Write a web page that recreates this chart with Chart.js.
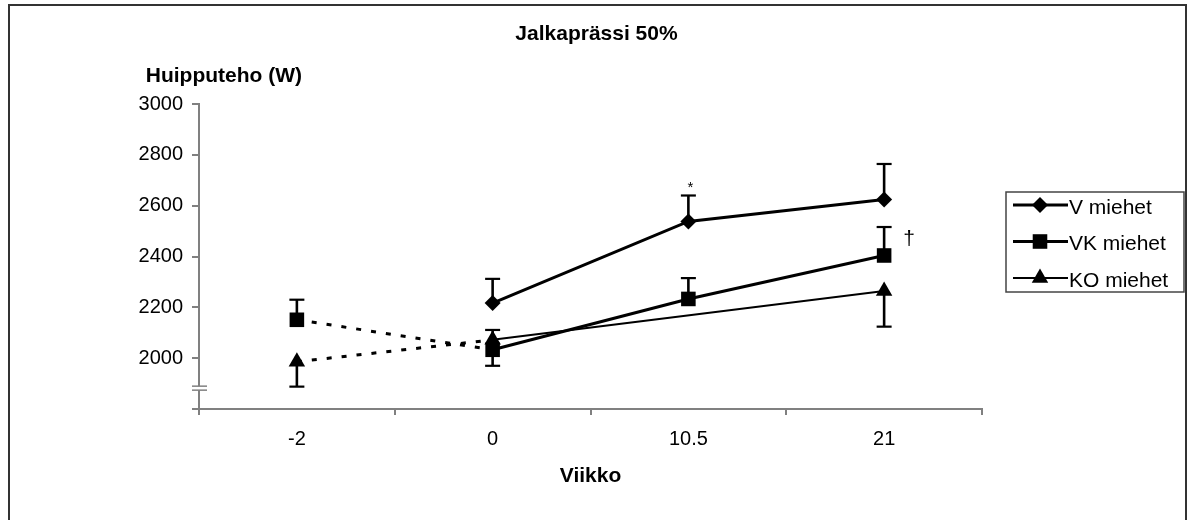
<!DOCTYPE html>
<html><head><meta charset="utf-8">
<script src="https://cdn.jsdelivr.net/npm/chart.js@4.4.1/dist/chart.umd.min.js"></script>
<style>html,body{margin:0;padding:0;background:#fff}#wrap{width:1188px;height:520px;position:relative}</style>
</head><body><div id="wrap"><canvas id="c" width="1188" height="520"></canvas></div>
<script>
// ---- data ----
const categories = ['-2', '0', '10.5', '21'];
const seriesNames = ['V miehet', 'VK miehet', 'KO miehet'];
const vMen  = [null, 2217, 2538, 2624];
const vkMen = [2151, 2033, 2233, 2404];
const koMen = [1986, 2072, null, 2264];
// error bar end values (one-sided bars)
const vErrEnd  = [null, 2312, 2640, 2764];
const vkErrEnd = [2230, 1970, 2315, 2516];
const koErrEnd = [1888, 2111, null, 2124];
const yMin = 1800, yMax = 3000, yStep = 200;
const hiddenTickValues = [1800];
const axisBreakValue = 1882;
const chartTitle = 'Jalkaprässi 50%';
const yTitle = 'Huipputeho (W)';
const xTitle = 'Viikko';
const notes = [ {text: '*', series: 0, index: 2}, {text: '†', series: 1, index: 3} ];

const FONT = "'Liberation Sans', Arial, Helvetica, sans-serif";
const AXIS = '#808080';

function mkSet(label, data, err, style, radius, width) {
  return {
    label, data, errEnd: err,
    borderColor: '#000', backgroundColor: '#000',
    borderWidth: width, pointStyle: style, pointRadius: radius, pointHoverRadius: radius,
    pointBorderWidth: 0, pointHoverBorderWidth: 0,
    spanGaps: true, tension: 0, clip: false,
    segment: {
      borderDash: ctx => ctx.p0DataIndex === 0 ? [5, 10] : undefined,
      borderWidth: ctx => ctx.p0DataIndex === 0 ? 3 : width
    }
  };
}

function drawMarker(ctx, style, r, x, y) {
  ctx.beginPath();
  if (style === 'rectRot') {
    ctx.moveTo(x - r, y); ctx.lineTo(x, y - r); ctx.lineTo(x + r, y); ctx.lineTo(x, y + r);
  } else if (style === 'rect') {
    const s = r * Math.SQRT1_2; ctx.rect(x - s, y - s, 2 * s, 2 * s);
  } else {
    ctx.moveTo(x, y - r);
    ctx.lineTo(x + r * Math.sin(2 * Math.PI / 3), y - r * Math.cos(2 * Math.PI / 3));
    ctx.lineTo(x + r * Math.sin(4 * Math.PI / 3), y - r * Math.cos(4 * Math.PI / 3));
  }
  ctx.closePath(); ctx.fill();
}

const decor = {
  id: 'decor',
  beforeDraw(chart) {
    const ctx = chart.ctx;
    ctx.save();
    ctx.fillStyle = '#fff'; ctx.fillRect(0, 0, chart.width, chart.height);
    ctx.strokeStyle = '#333'; ctx.lineWidth = 2;
    ctx.strokeRect(9, 5, 1177, 540);
    ctx.restore();
  },
  afterDatasetsDraw(chart) {
    const ctx = chart.ctx, ys = chart.scales.y;
    ctx.save();
    ctx.strokeStyle = '#000';
    chart.data.datasets.forEach((ds, di) => {
      const meta = chart.getDatasetMeta(di);
      ds.errEnd.forEach((e, i) => {
        if (e == null || ds.data[i] == null) return;
        const x = meta.data[i].x;
        const y0 = ys.getPixelForValue(ds.data[i]);
        const y1 = ys.getPixelForValue(e);
        ctx.lineWidth = 2.6;
        ctx.beginPath(); ctx.moveTo(x, y0); ctx.lineTo(x, y1); ctx.stroke();
        ctx.lineWidth = 2.2;
        ctx.beginPath(); ctx.moveTo(x - 7.5, y1); ctx.lineTo(x + 7.5, y1); ctx.stroke();
      });
    });
    // annotations
    ctx.fillStyle = '#000';
    notes.forEach(n => {
      const ds = chart.data.datasets[n.series];
      const meta = chart.getDatasetMeta(n.series);
      const x = meta.data[n.index].x;
      const yTop = ys.getPixelForValue(ds.errEnd[n.index]);
      const yVal = ys.getPixelForValue(ds.data[n.index]);
      ctx.textAlign = 'center'; ctx.textBaseline = 'middle';
      if (n.text === '*') {
        ctx.font = '15px ' + FONT;
        ctx.fillText(n.text, x + 2, yTop - 8);
      } else {
        ctx.font = '21px ' + FONT;
        ctx.fillText(n.text, x + 25, (yTop + yVal) / 2 - 2);
      }
    });
    ctx.restore();
  },
  afterDraw(chart) {
    const ctx = chart.ctx, ca = chart.chartArea, ys = chart.scales.y;
    ctx.save();
    // axis break marks
    const yb = ys.getPixelForValue(axisBreakValue);
    ctx.strokeStyle = AXIS; ctx.lineWidth = 1.5;
    ctx.fillStyle = '#fff';
    ctx.fillRect(ca.left - 2, yb - 2, 5, 4);
    [-2, 2].forEach(d => { ctx.beginPath(); ctx.moveTo(ca.left - 7, yb + d); ctx.lineTo(ca.left + 8, yb + d); ctx.stroke(); });
    // chart title
    ctx.fillStyle = '#000';
    ctx.font = 'bold 21px ' + FONT; ctx.textAlign = 'center'; ctx.textBaseline = 'middle';
    ctx.fillText(chartTitle, (ca.left + ca.right) / 2 + 6, ca.top - 70);
    // y title
    ctx.textAlign = 'right';
    ctx.fillText(yTitle, ca.left + 103, ca.top - 28);
    // legend
    const x0 = ca.right + 24, y0 = ca.top + 88, w = 178, h = 100;
    ctx.strokeStyle = '#444'; ctx.lineWidth = 1.5;
    ctx.strokeRect(x0, y0, w, h);
    chart.data.datasets.forEach((ds, i) => {
      const y = y0 + 13 + i * 36.5;
      ctx.strokeStyle = '#000'; ctx.lineWidth = ds.borderWidth;
      ctx.beginPath(); ctx.moveTo(x0 + 7, y); ctx.lineTo(x0 + 62, y); ctx.stroke();
      ctx.fillStyle = '#000';
      drawMarker(ctx, ds.pointStyle, ds.pointRadius, x0 + 34, y);
      ctx.font = '21px ' + FONT; ctx.textAlign = 'left'; ctx.textBaseline = 'middle';
      ctx.fillText(ds.label, x0 + 63, y + 3);
    });
    ctx.restore();
  }
};

new Chart(document.getElementById('c'), {
  type: 'line',
  data: {
    labels: categories,
    datasets: [
      mkSet(seriesNames[0], vMen, vErrEnd, 'rectRot', 8, 3),
      mkSet(seriesNames[1], vkMen, vkErrEnd, 'rect', 10.3, 3),
      mkSet(seriesNames[2], koMen, koErrEnd, 'triangle', 9.5, 2)
    ]
  },
  options: {
    responsive: false, animation: false, devicePixelRatio: 1,
    layout: { padding: { left: 0, right: 206, top: 104, bottom: 0 } },
    plugins: {
      legend: { display: false }, tooltip: { enabled: false }, title: { display: false }
    },
    scales: {
      x: {
        type: 'category', offset: true,
        grid: { offset: true, drawOnChartArea: false, color: AXIS, lineWidth: 2, tickLength: 6 },
        border: { color: AXIS, width: 2 },
        ticks: { color: '#000', font: { family: FONT, size: 20 }, padding: 12, maxRotation: 0 },
        title: { display: true, text: xTitle, color: '#000', font: { family: FONT, size: 21, weight: 'bold' }, padding: { top: 0, bottom: 31 } },
        afterFit: s => { s.height = 111; }
      },
      y: {
        min: yMin, max: yMax,
        grid: { drawOnChartArea: false, color: AXIS, lineWidth: 2, tickLength: 7 },
        border: { color: AXIS, width: 2 },
        ticks: { stepSize: yStep, color: '#000', font: { family: FONT, size: 20 }, padding: 9,
          callback: v => hiddenTickValues.includes(v) ? '' : String(v) },
        afterFit: s => { s.width = 199; }
      }
    }
  },
  plugins: [decor]
});
</script></body></html>
